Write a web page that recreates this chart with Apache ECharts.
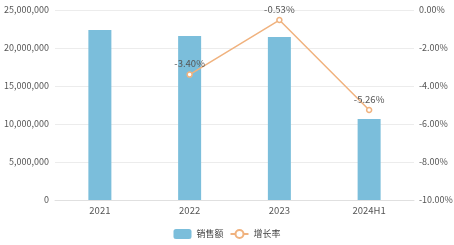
<!DOCTYPE html>
<html><head><meta charset="utf-8">
<script src="https://cdn.jsdelivr.net/npm/echarts@6/dist/echarts.min.js"></script>
<style>html,body{margin:0;padding:0;background:#fff}#c{width:454px;height:245px}</style>
</head><body><div id="c"></div>
<script>
const categories = ['2021', '2022', '2023', '2024H1'];
const sales = [22370000, 21590000, 21460000, 10660000];
const growth = [null, -3.40, -0.53, -5.26];
const seriesNames = ['销售额', '增长率'];

const chart = echarts.init(document.getElementById('c'));
const font = '"Microsoft YaHei","Noto Sans CJK SC",sans-serif';
chart.setOption({
  animation: false,
  textStyle: { fontFamily: font },
  grid: { left: 55, right: 40, top: 10, bottom: 45, outerBoundsMode: 'none', containLabel: false },
  legend: {
    bottom: 1, itemWidth: 18, itemHeight: 10, itemGap: 6,
    textStyle: { fontSize: 9, color: '#444' },
    data: [{ name: seriesNames[0] }, { name: seriesNames[1] }]
  },
  xAxis: {
    type: 'category', data: categories,
    axisLine: { lineStyle: { color: '#e0e0e0' } },
    axisTick: { show: false },
    axisLabel: { fontSize: 9.5, color: '#555', margin: 6 }
  },
  yAxis: [
    {
      type: 'value', min: 0, max: 25000000, interval: 5000000,
      axisLabel: { fontSize: 9, color: '#555', margin: 6, formatter: v => v.toLocaleString('en-US') },
      splitLine: { lineStyle: { color: '#ececec' } },
      axisLine: { show: false }, axisTick: { show: false }
    },
    {
      type: 'value', min: -10, max: 0, interval: 2,
      axisLabel: { fontSize: 9, color: '#555', margin: 5, formatter: v => v.toFixed(2) + '%' },
      splitLine: { show: false },
      axisLine: { show: false }, axisTick: { show: false }
    }
  ],
  series: [
    {
      name: seriesNames[0], type: 'bar', data: sales, barWidth: 23,
      itemStyle: { color: '#7bbedb' }
    },
    {
      name: seriesNames[1], type: 'line', yAxisIndex: 1, data: growth,
      symbol: 'circle', symbolSize: 5, connectNulls: false,
      lineStyle: { color: '#f0b27e', width: 1.5 },
      itemStyle: { color: '#fff', borderColor: '#f0b27e', borderWidth: 1.5 },
      label: { show: true, position: 'top', fontSize: 9.5, color: '#555', distance: 3,
        formatter: p => p.value.toFixed(2) + '%' }
    }
  ]
});
</script></body></html>
